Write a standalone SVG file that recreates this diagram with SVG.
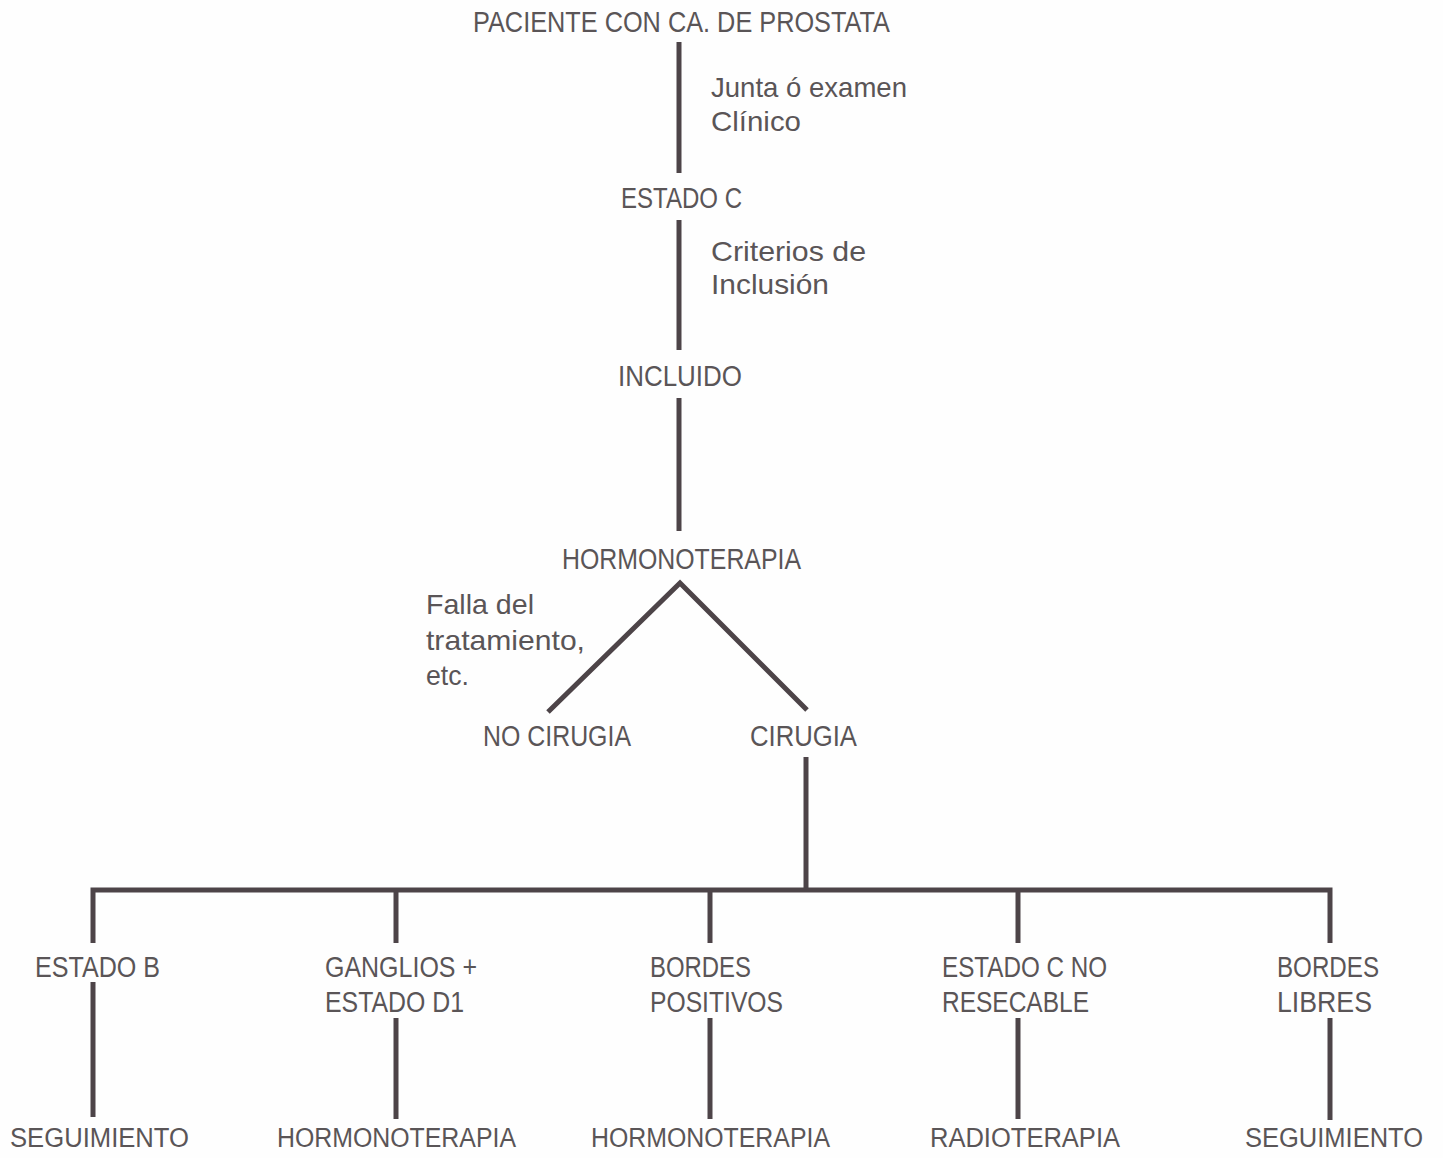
<svg xmlns="http://www.w3.org/2000/svg" width="1443" height="1158" viewBox="0 0 1443 1158">
<style>
text{font-family:"Liberation Sans",Arial,sans-serif;font-size:29px;fill:#5a5557}
.c line,.c polyline{stroke:#4d4448;stroke-width:5;fill:none}
.lbl{font-size:28px}
.bot{font-size:27px}
</style>
<rect width="1443" height="1158" fill="#fefefe"/>
<g class="c" id="connectors">
<line x1="679" y1="42" x2="679" y2="173"/>
<line x1="679" y1="220" x2="679" y2="350"/>
<line x1="679" y1="398" x2="679" y2="531"/>
<polyline points="548,712 680,583 807,710"/>
<line x1="806" y1="757" x2="806" y2="890"/>
<polyline points="93,943 93,890 1330,890 1330,943"/>
<line x1="396" y1="890" x2="396" y2="943"/>
<line x1="710" y1="890" x2="710" y2="943"/>
<line x1="1018" y1="890" x2="1018" y2="943"/>
<line x1="93" y1="982" x2="93" y2="1117"/>
<line x1="396" y1="1018" x2="396" y2="1119"/>
<line x1="710" y1="1018" x2="710" y2="1119"/>
<line x1="1018" y1="1018" x2="1018" y2="1119"/>
<line x1="1330" y1="1018" x2="1330" y2="1120"/>
</g>
<g id="n-paciente"><text x="473" y="32" textLength="417" lengthAdjust="spacingAndGlyphs">PACIENTE CON CA. DE PROSTATA</text></g>
<g id="l-junta"><text class="lbl" x="711" y="97" textLength="196" lengthAdjust="spacingAndGlyphs">Junta ó examen</text><text class="lbl" x="711" y="131" textLength="90" lengthAdjust="spacingAndGlyphs">Clínico</text></g>
<g id="n-estadoc"><text x="621" y="208" textLength="121" lengthAdjust="spacingAndGlyphs">ESTADO C</text></g>
<g id="l-criterios"><text class="lbl" x="711" y="261" textLength="155" lengthAdjust="spacingAndGlyphs">Criterios de</text><text class="lbl" x="711" y="294" textLength="118" lengthAdjust="spacingAndGlyphs">Inclusión</text></g>
<g id="n-incluido"><text x="618" y="386" textLength="124" lengthAdjust="spacingAndGlyphs">INCLUIDO</text></g>
<g id="n-hormono"><text x="562" y="569" textLength="239" lengthAdjust="spacingAndGlyphs">HORMONOTERAPIA</text></g>
<g id="l-falla"><text class="lbl" x="426" y="614" textLength="108" lengthAdjust="spacingAndGlyphs">Falla del</text><text class="lbl" x="426" y="650" textLength="159" lengthAdjust="spacingAndGlyphs">tratamiento,</text><text class="lbl" x="426" y="685" textLength="43" lengthAdjust="spacingAndGlyphs">etc.</text></g>
<g id="n-nocirugia"><text x="483" y="746" textLength="148" lengthAdjust="spacingAndGlyphs">NO CIRUGIA</text></g>
<g id="n-cirugia"><text x="750" y="746" textLength="107" lengthAdjust="spacingAndGlyphs">CIRUGIA</text></g>
<g id="n-estadob"><text x="35" y="977" textLength="125" lengthAdjust="spacingAndGlyphs">ESTADO B</text></g>
<g id="n-ganglios"><text x="325" y="977" textLength="152" lengthAdjust="spacingAndGlyphs">GANGLIOS +</text><text x="325" y="1012" textLength="139" lengthAdjust="spacingAndGlyphs">ESTADO D1</text></g>
<g id="n-bordespos"><text x="650" y="977" textLength="101" lengthAdjust="spacingAndGlyphs">BORDES</text><text x="650" y="1012" textLength="133" lengthAdjust="spacingAndGlyphs">POSITIVOS</text></g>
<g id="n-estadocno"><text x="942" y="977" textLength="165" lengthAdjust="spacingAndGlyphs">ESTADO C NO</text><text x="942" y="1012" textLength="147" lengthAdjust="spacingAndGlyphs">RESECABLE</text></g>
<g id="n-bordeslib"><text x="1277" y="977" textLength="102" lengthAdjust="spacingAndGlyphs">BORDES</text><text x="1277" y="1012" textLength="95" lengthAdjust="spacingAndGlyphs">LIBRES</text></g>
<g id="n-seg1"><text class="bot" x="10" y="1147" textLength="179" lengthAdjust="spacingAndGlyphs">SEGUIMIENTO</text></g>
<g id="n-horm1"><text class="bot" x="277" y="1147" textLength="239" lengthAdjust="spacingAndGlyphs">HORMONOTERAPIA</text></g>
<g id="n-horm2"><text class="bot" x="591" y="1147" textLength="239" lengthAdjust="spacingAndGlyphs">HORMONOTERAPIA</text></g>
<g id="n-radio"><text class="bot" x="930" y="1147" textLength="190" lengthAdjust="spacingAndGlyphs">RADIOTERAPIA</text></g>
<g id="n-seg2"><text class="bot" x="1245" y="1147" textLength="178" lengthAdjust="spacingAndGlyphs">SEGUIMIENTO</text></g>
</svg>
